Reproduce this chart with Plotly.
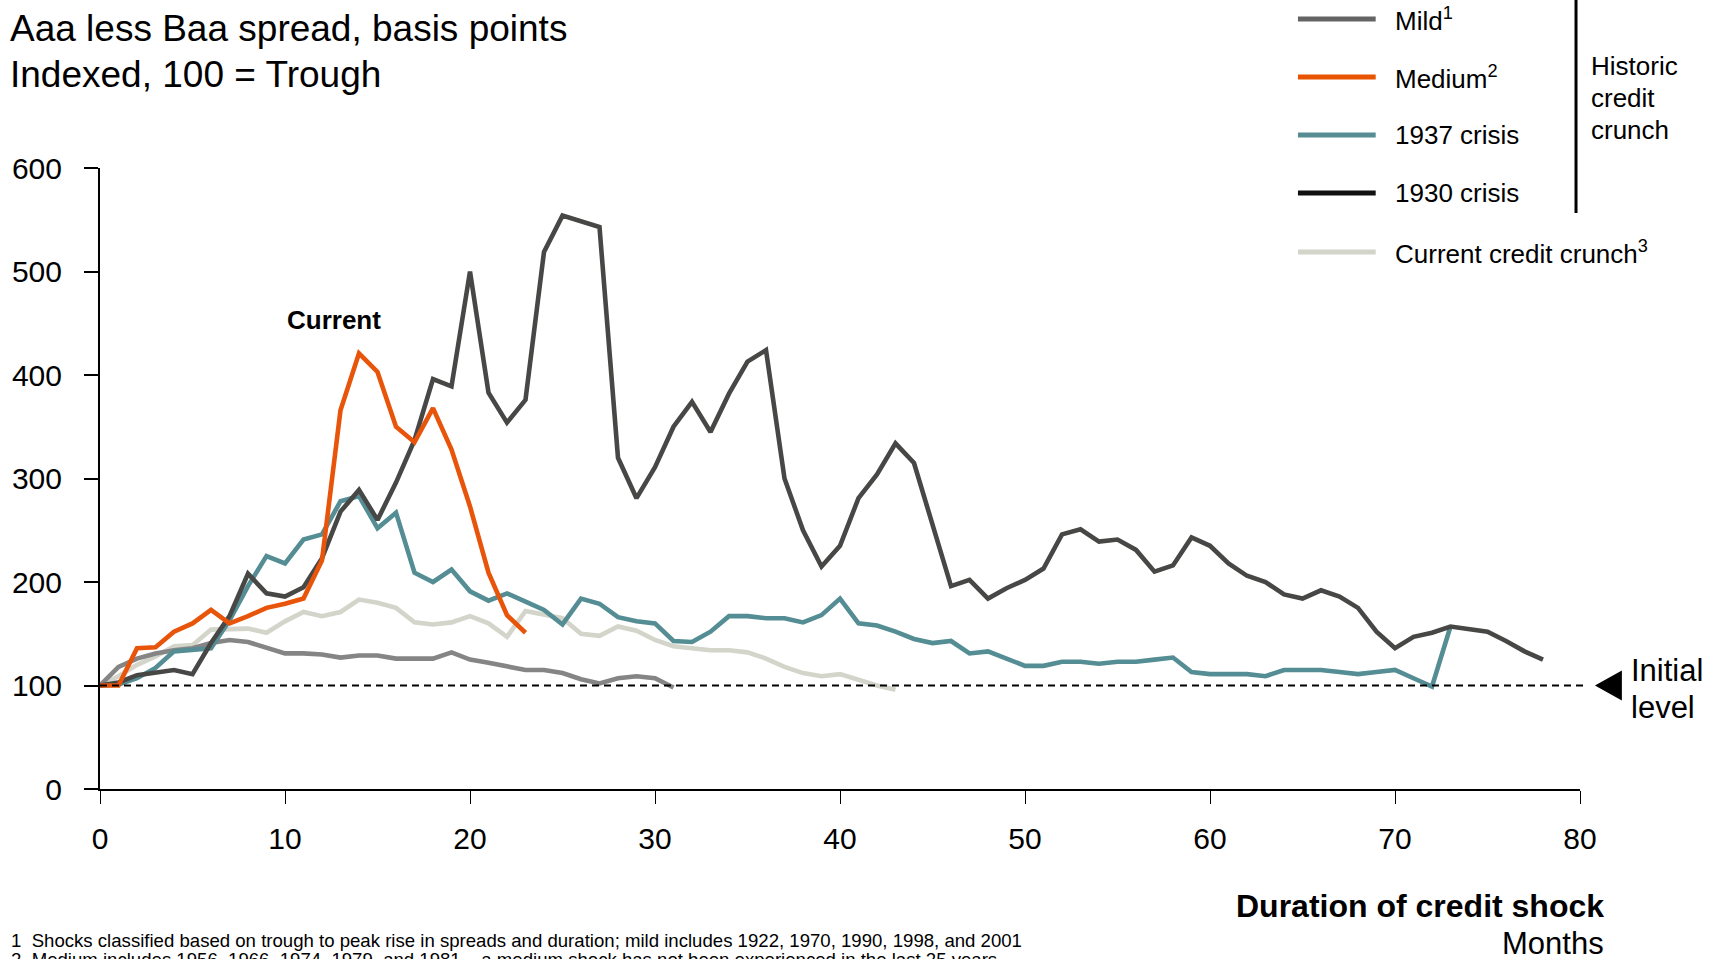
import plotly.graph_objects as go

# Spread index (100 = trough) by month of credit shock
mild = [100, 118, 126, 131, 134, 136, 141, 144, 142, 136, 131, 131, 130, 127, 129, 129,
        126, 126, 126, 132, 125, 122, 118, 115, 115, 112, 106, 102, 107, 109, 107, 98]
medium = [100, 100, 136, 137, 152, 160, 173, 160, 167, 175, 179, 184, 221, 366, 421, 403,
          350, 335, 368, 328, 273, 209, 168, 151]
crisis_1937 = [100, 101, 107, 117, 133, 135, 136, 163, 196, 225,
               218, 241, 246, 278, 283, 252, 267, 209, 200, 212,
               191, 182, 189, 181, 173, 159, 184, 179, 166, 162,
               160, 143, 142, 152, 167, 167, 165, 165, 161, 168,
               184, 160, 158, 152, 145, 141, 143, 131, 133, 126,
               119, 119, 123, 123, 121, 123, 123, 125, 127, 113,
               111, 111, 111, 109, 115, 115, 115, 113, 111, 113,
               115, 107, 99, 157]
crisis_1930 = [100, 103, 110, 113, 115, 111, 141, 167, 208, 189,
               186, 195, 223, 268, 289, 260, 296, 337, 396, 389,
               500, 383, 354, 376, 519, 554, 549, 543, 320, 281,
               311, 350, 374, 345, 382, 413, 424, 300, 250, 215,
               235, 281, 304, 334, 315, 254, 196, 202, 184, 194,
               202, 213, 246, 251, 239, 241, 231, 210, 216, 243,
               235, 218, 206, 200, 188, 184, 192, 186, 175, 152,
               136, 147, 151, 157, 155, 152, 143, 133, 125]
current = [100, 109, 120, 128, 138, 139, 154, 154, 155, 151,
           162, 171, 167, 171, 183, 180, 175, 161, 159, 161,
           167, 160, 147, 172, 168, 165, 150, 148, 157, 153,
           144, 138, 136, 134, 134, 132, 126, 118, 112, 109,
           111, 105, 100, 96]

initial_level = 100
x_ticks = [0, 10, 20, 30, 40, 50, 60, 70, 80]
y_ticks = [0, 100, 200, 300, 400, 500, 600]

legend_items = [
    ("Mild<sup>1</sup>", "#646464"),
    ("Medium<sup>2</sup>", "#E85400"),
    ("1937 crisis", "#568C92"),
    ("1930 crisis", "#111111"),
    ("Current credit crunch<sup>3</sup>", "#D3D4CA"),
]

FONT = "Liberation Sans, Arial, sans-serif"
W, H = 1719, 959
ML, MR, MT, MB = 95, 139, 168, 170


def px(xp):
    return (xp - ML) / (W - ML - MR)


def py(yp):
    return (H - MB - yp) / (H - MT - MB)


series = [
    (current, "#D3D4CA"),
    (mild, "#858585"),
    (crisis_1937, "#548D93"),
    (crisis_1930, "#474846"),
    (medium, "#E8540A"),
]

fig = go.Figure()
for values, color in series:
    fig.add_trace(go.Scatter(
        x=list(range(len(values))), y=values, mode="lines",
        line=dict(color=color, width=4.6), showlegend=False, hoverinfo="skip",
    ))

shapes = []
# initial level reference line
shapes.append(dict(type="line", xref="paper", yref="y", x0=0, x1=px(1584),
                   y0=initial_level, y1=initial_level,
                   line=dict(color="black", width=2, dash="7px,5px")))
# pointer triangle
ty = (H - MB - (initial_level / 600) * (H - MT - MB))
shapes.append(dict(type="path", xref="paper", yref="paper",
                   path=f"M {px(1595)} {py(ty)} L {px(1622)} {py(ty - 15)} L {px(1622)} {py(ty + 15)} Z",
                   fillcolor="black", line=dict(color="black", width=0)))

annotations = []
# legend
legend_y = [19, 77, 135, 193, 252]
for (label, color), yy in zip(legend_items, legend_y):
    shapes.append(dict(type="line", xref="paper", yref="paper",
                       x0=px(1297), x1=px(1375), y0=py(yy), y1=py(yy),
                       line=dict(color=color, width=5)))
    annotations.append(dict(text=label, xref="paper", yref="paper", x=px(1392), y=py(yy),
                            xanchor="left", yanchor="middle", showarrow=False,
                            font=dict(family=FONT, size=26, color="black")))
# bracket for historic group
shapes.append(dict(type="line", xref="paper", yref="paper", x0=px(1576), x1=px(1576),
                   y0=py(0), y1=py(213), line=dict(color="black", width=3)))
for i, word in enumerate(["Historic", "credit", "crunch"]):
    annotations.append(dict(text=word, xref="paper", yref="paper", x=px(1589), y=py(66 + 32 * i),
                            xanchor="left", yanchor="middle", showarrow=False,
                            font=dict(family=FONT, size=26, color="black")))

# subtitle lines
annotations.append(dict(text="Aaa less Baa spread, basis points", xref="paper", yref="paper",
                        x=px(3), y=py(29), xanchor="left", yanchor="middle", showarrow=False,
                        font=dict(family=FONT, size=37, color="black")))
annotations.append(dict(text="Indexed, 100 = Trough", xref="paper", yref="paper",
                        x=px(3), y=py(74), xanchor="left", yanchor="middle", showarrow=False,
                        font=dict(family=FONT, size=37, color="black")))

# label near the orange peak
peak_i = medium.index(max(medium))
annotations.append(dict(text="<b>Current</b>", x=peak_i, y=medium[peak_i], xref="x", yref="y",
                        xshift=-25, yshift=33, showarrow=False,
                        font=dict(family=FONT, size=26, color="black")))

# initial level label
annotations.append(dict(text="Initial", xref="paper", yref="paper", x=px(1629), y=py(670),
                        xanchor="left", yanchor="middle", showarrow=False,
                        font=dict(family=FONT, size=31, color="black")))
annotations.append(dict(text="level", xref="paper", yref="paper", x=px(1629), y=py(707),
                        xanchor="left", yanchor="middle", showarrow=False,
                        font=dict(family=FONT, size=31, color="black")))

# axis title
annotations.append(dict(text="<b>Duration of credit shock</b>", xref="paper", yref="paper",
                        x=px(1606), y=py(906), xanchor="right", yanchor="middle", showarrow=False,
                        font=dict(family=FONT, size=32, color="black")))
annotations.append(dict(text="Months", xref="paper", yref="paper",
                        x=px(1606), y=py(943), xanchor="right", yanchor="middle", showarrow=False,
                        font=dict(family=FONT, size=31, color="black")))

# footnotes
annotations.append(dict(text="1  Shocks classified based on trough to peak rise in spreads and duration; "
                             "mild includes 1922, 1970, 1990, 1998, and 2001",
                        xref="paper", yref="paper", x=px(4), y=py(940), xanchor="left",
                        yanchor="middle", showarrow=False,
                        font=dict(family=FONT, size=18.6, color="black")))
annotations.append(dict(text="2  Medium includes 1956, 1966, 1974, 1979, and 1981 \u2013 a medium shock "
                             "has not been experienced in the last 25 years",
                        xref="paper", yref="paper", x=px(4), y=py(960), xanchor="left",
                        yanchor="middle", showarrow=False,
                        font=dict(family=FONT, size=18.6, color="black")))

fig.update_layout(
    width=W, height=H,
    margin=dict(l=ML, r=MR, t=MT, b=MB, pad=0),
    paper_bgcolor="white", plot_bgcolor="white",
    font=dict(family=FONT, color="black"),
    shapes=shapes, annotations=annotations,
    xaxis=dict(range=[0, 80], tickvals=x_ticks, showgrid=False, zeroline=False,
               showline=True, linecolor="black", linewidth=2,
               ticks="outside", ticklen=13, tickwidth=1, tickcolor="black",
               ticklabelstandoff=9, tickfont=dict(family=FONT, size=30, color="black")),
    yaxis=dict(range=[0, 600], tickvals=y_ticks, showgrid=False, zeroline=False,
               showline=True, linecolor="black", linewidth=2,
               ticks="outside", ticklen=14, tickwidth=2, tickcolor="black",
               ticklabelstandoff=16, tickfont=dict(family=FONT, size=30, color="black")),
)

fig.write_html("out.html")
